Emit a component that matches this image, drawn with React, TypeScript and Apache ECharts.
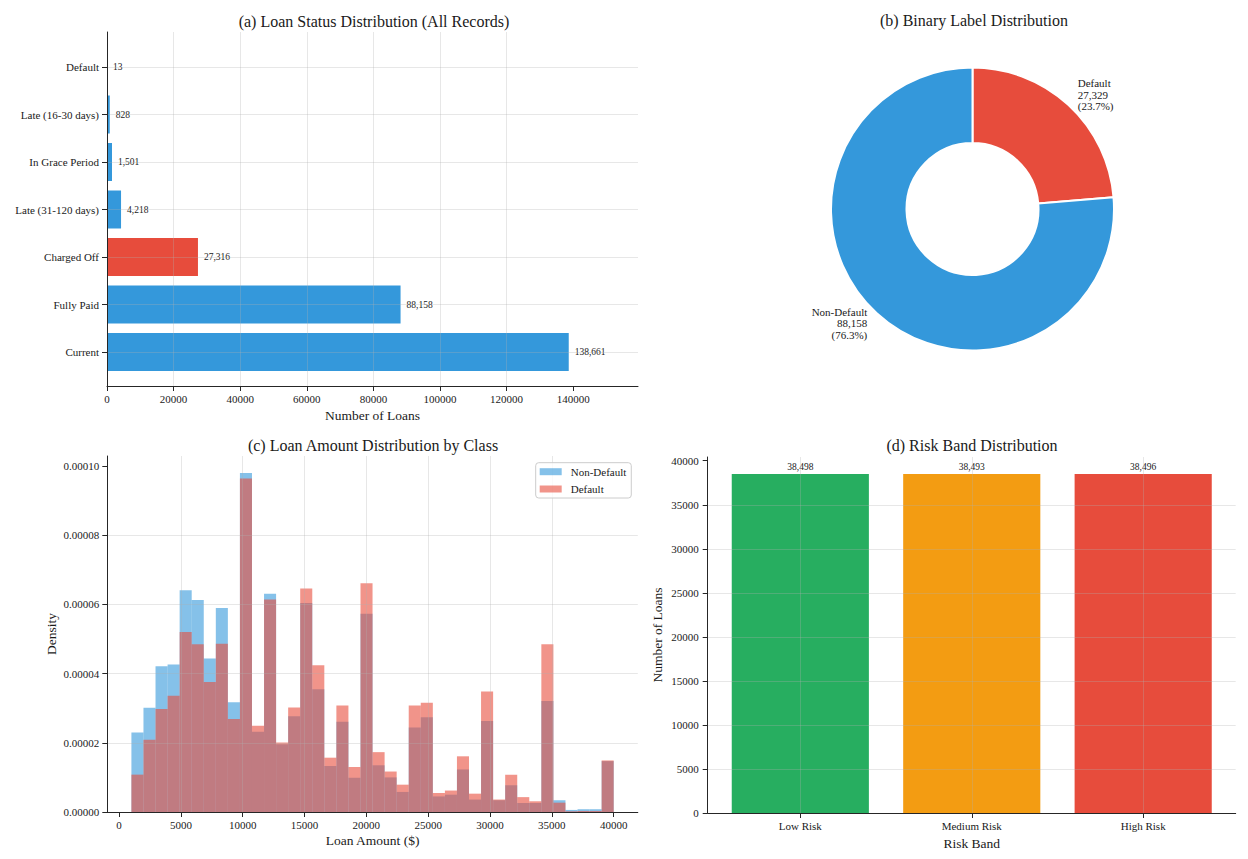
import React, { useEffect, useRef } from 'react';
import * as echarts from 'echarts';

const SERIF = '"Liberation Serif", "Times New Roman", Times, serif';
const INK = '#1a1a1a';

// (a) Loan status counts, listed from the bottom of the axis to the top
const statusLabels = ['Current', 'Fully Paid', 'Charged Off', 'Late (31-120 days)', 'In Grace Period', 'Late (16-30 days)', 'Default'];
const statusCounts = [138661, 88158, 27316, 4218, 1501, 828, 13];
const statusColors = ['#3498db', '#3498db', '#e74c3c', '#3498db', '#3498db', '#3498db', '#3498db'];
const statusTicks = [0, 20000, 40000, 60000, 80000, 100000, 120000, 140000];

// (b) Binary label split
const binaryLabels = ['Default', 'Non-Default'];
const binaryCounts = [27329, 88158];
const binaryColors = ['#e74c3c', '#3498db'];

// (c) Loan amount histogram: 40 equal-width bins starting at $1,000
const HIST_START = 1000;
const HIST_BIN_WIDTH = 975;
const densityNonDefault = [
  2.30e-5, 3.01e-5, 4.21e-5, 4.26e-5, 6.41e-5, 6.13e-5, 4.44e-5, 5.90e-5, 3.17e-5, 9.80e-5,
  2.32e-5, 6.31e-5, 1.96e-5, 2.77e-5, 6.04e-5, 3.55e-5, 1.33e-5, 2.61e-5, 0.99e-5, 5.73e-5,
  1.35e-5, 1.00e-5, 0.58e-5, 2.44e-5, 2.74e-5, 0.45e-5, 0.50e-5, 1.23e-5, 0.36e-5, 2.63e-5,
  0.34e-5, 0.77e-5, 0.26e-5, 0.26e-5, 3.21e-5, 0.34e-5, 0.06e-5, 0.08e-5, 0.08e-5, 1.47e-5,
];
const densityDefault = [
  1.08e-5, 2.09e-5, 2.98e-5, 3.36e-5, 5.20e-5, 4.85e-5, 3.76e-5, 4.86e-5, 2.69e-5, 9.64e-5,
  2.49e-5, 6.14e-5, 2.01e-5, 3.02e-5, 6.46e-5, 4.24e-5, 1.57e-5, 3.08e-5, 1.30e-5, 6.61e-5,
  1.73e-5, 1.17e-5, 0.79e-5, 3.08e-5, 3.16e-5, 0.55e-5, 0.62e-5, 1.61e-5, 0.53e-5, 3.48e-5,
  0.36e-5, 1.08e-5, 0.43e-5, 0.31e-5, 4.85e-5, 0.27e-5, 0.02e-5, 0.03e-5, 0.03e-5, 1.49e-5,
];
const amountTicks = [0, 5000, 10000, 15000, 20000, 25000, 30000, 35000, 40000];
const densityTicks = [0, 0.00002, 0.00004, 0.00006, 0.00008, 0.0001];

// (d) Risk band counts
const riskBands = ['Low Risk', 'Medium Risk', 'High Risk'];
const riskCounts = [38498, 38493, 38496];
const riskColors = ['#27ae60', '#f39c12', '#e74c3c'];
const riskTicks = [0, 5000, 10000, 15000, 20000, 25000, 30000, 35000, 40000];

// Axis extents (data range plus plotting margins)
const STATUS_MAX = 159460;
const AMOUNT_MIN = -950;
const AMOUNT_MAX = 41950;
const DENSITY_MAX = 0.0001029;
const RISK_MAX = 40423;

const axisLine = { show: true, onZero: false, lineStyle: { color: '#262626', width: 1 } };
const hiddenLine = { show: false, onZero: false };
const tick = { show: true, length: 5, lineStyle: { color: '#262626', width: 1 } };
const gridLine = { show: true, lineStyle: { color: 'rgba(176,176,176,0.3)', width: 1 } };
const tickLabel = { fontFamily: SERIF, fontSize: 11, color: INK };
const nameStyle = { fontFamily: SERIF, fontSize: 13.5, color: INK };
const titleStyle = { fontFamily: SERIF, fontSize: 16, fontWeight: 'normal' as const, color: INK, lineHeight: 20 };
const fmt = (v: number) => v.toLocaleString('en-US');
const plain = (v: number) => String(v);

const toBins = (values: number[]) =>
  values.map((d, i) => [HIST_START + i * HIST_BIN_WIDTH, HIST_START + (i + 1) * HIST_BIN_WIDTH, d]);

const histRenderer = (fill: string) => (_params: any, api: any) => {
  const topLeft = api.coord([api.value(0), api.value(2)]);
  const bottomRight = api.coord([api.value(1), 0]);
  return {
    type: 'rect',
    shape: {
      x: topLeft[0],
      y: topLeft[1],
      width: bottomRight[0] - topLeft[0],
      height: bottomRight[1] - topLeft[1],
    },
    style: { fill },
  };
};

const BLUE_A = 'rgba(52,152,219,0.6)';
const RED_A = 'rgba(231,76,60,0.6)';

function buildOption(): any {
  return {
    animation: false,
    textStyle: { fontFamily: SERIF },
    title: [
      { text: '(a) Loan Status Distribution (All Records)', left: 374, top: 11.5, textAlign: 'center', padding: 0, textStyle: titleStyle },
      { text: '(b) Binary Label Distribution', left: 974, top: 10.5, textAlign: 'center', padding: 0, textStyle: titleStyle },
      { text: '(c) Loan Amount Distribution by Class', left: 373, top: 435, textAlign: 'center', padding: 0, textStyle: titleStyle },
      { text: '(d) Risk Band Distribution', left: 972, top: 435, textAlign: 'center', padding: 0, textStyle: titleStyle },
    ],
    legend: {
      data: ['Non-Default', 'Default'],
      orient: 'vertical',
      left: 535.7,
      top: 462.7,
      itemWidth: 22,
      itemHeight: 7,
      itemGap: 4.3,
      icon: 'rect',
      padding: [2.5, 5, 2.5, 4],
      borderColor: '#cccccc',
      borderWidth: 1,
      borderRadius: 3,
      backgroundColor: 'rgba(255,255,255,0.8)',
      selectedMode: false,
      textStyle: { fontFamily: SERIF, fontSize: 11, lineHeight: 13, color: INK, padding: [0, 0, 0, 4] },
    },
    grid: [
      { left: 107, top: 32, width: 531, height: 354 },
      { left: 107, top: 43.25, width: 531, height: 332.5 },
      { left: 107.3, top: 456, width: 530.5, height: 356 },
      { left: 707.7, top: 457, width: 528, height: 356 },
      { left: 714.6, top: 457, width: 514.3, height: 356 },
    ],
    xAxis: [
      {
        gridIndex: 0, type: 'value', min: 0, max: STATUS_MAX, interval: 20000, z: 3,
        axisLine, axisTick: { ...tick, customValues: statusTicks },
        axisLabel: { ...tickLabel, margin: 7, customValues: statusTicks, formatter: plain },
        splitLine: { ...gridLine, showMaxLine: false },
        name: 'Number of Loans', nameLocation: 'middle', nameGap: 22, nameTextStyle: nameStyle,
      },
      { gridIndex: 1, type: 'value', min: 0, max: STATUS_MAX, show: false },
      {
        gridIndex: 2, type: 'value', min: AMOUNT_MIN, max: AMOUNT_MAX, minInterval: 5000, maxInterval: 5000, z: 3,
        axisLine, axisTick: { ...tick, customValues: amountTicks },
        axisLabel: { ...tickLabel, margin: 7, customValues: amountTicks, formatter: plain },
        splitLine: { ...gridLine, showMinLine: false, showMaxLine: false },
        name: 'Loan Amount ($)', nameLocation: 'middle', nameGap: 21, nameTextStyle: nameStyle,
      },
      {
        gridIndex: 3, type: 'value', min: 0, max: 1, z: 3,
        axisLine, axisTick: { show: false }, axisLabel: { show: false }, splitLine: { show: false },
      },
      {
        gridIndex: 4, type: 'category', data: riskBands, z: 3,
        axisLine: hiddenLine, axisTick: { ...tick, alignWithLabel: true },
        axisLabel: { ...tickLabel, margin: 7 },
        splitLine: { ...gridLine, alignWithLabel: true },
        name: 'Risk Band', nameLocation: 'middle', nameGap: 23, nameTextStyle: nameStyle,
      },
    ],
    yAxis: [
      {
        gridIndex: 0, type: 'value', min: 0, max: 1, z: 3,
        axisLine, axisTick: { show: false }, axisLabel: { show: false }, splitLine: { show: false },
      },
      {
        gridIndex: 1, type: 'category', data: statusLabels, z: 3,
        axisLine: hiddenLine, axisTick: { ...tick, alignWithLabel: true },
        axisLabel: { ...tickLabel, margin: 8 },
        splitLine: { ...gridLine, alignWithLabel: true },
      },
      {
        gridIndex: 2, type: 'value', min: 0, max: DENSITY_MAX, interval: 0.00002, z: 3,
        axisLine, axisTick: { ...tick, customValues: densityTicks },
        axisLabel: { ...tickLabel, margin: 8, customValues: densityTicks, formatter: (v: number) => v.toFixed(5) },
        splitLine: { ...gridLine, showMaxLine: false },
        name: 'Density', nameLocation: 'middle', nameGap: 49, nameTextStyle: nameStyle,
      },
      {
        gridIndex: 3, type: 'value', min: 0, max: RISK_MAX, interval: 5000, z: 3,
        axisLine, axisTick: { ...tick, customValues: riskTicks },
        axisLabel: { ...tickLabel, margin: 9, customValues: riskTicks, formatter: plain },
        splitLine: { ...gridLine, showMaxLine: false },
        name: 'Number of Loans', nameLocation: 'middle', nameGap: 43, nameTextStyle: nameStyle,
      },
      { gridIndex: 4, type: 'value', min: 0, max: RISK_MAX, show: false },
    ],
    series: [
      {
        type: 'bar',
        xAxisIndex: 1,
        yAxisIndex: 1,
        barCategoryGap: '20%',
        data: statusCounts.map((v, i) => ({ value: v, itemStyle: { color: statusColors[i] } })),
        label: {
          show: true, position: 'right', distance: 6,
          formatter: (p: any) => fmt(p.value), fontFamily: SERIF, fontSize: 9.5, color: INK,
        },
        emphasis: { disabled: true },
      },
      {
        type: 'pie',
        center: [972.5, 209],
        radius: [66, 141.5],
        startAngle: 90,
        clockwise: true,
        avoidLabelOverlap: false,
        data: binaryLabels.map((n, i) => ({ name: n, value: binaryCounts[i], itemStyle: { color: binaryColors[i] } })),
        itemStyle: { borderColor: '#ffffff', borderWidth: 2 },
        label: {
          show: true, position: 'outside', distanceToLabelLine: 0,
          formatter: (p: any) => `${p.name}\n${fmt(p.value)}\n(${p.percent.toFixed(1)}%)`,
          fontFamily: SERIF, fontSize: 11, lineHeight: 11.5, color: INK,
        },
        labelLine: { show: false, length: 14, length2: 0 },
        emphasis: { disabled: true },
      },
      {
        type: 'custom',
        name: 'Non-Default',
        xAxisIndex: 2,
        yAxisIndex: 2,
        data: toBins(densityNonDefault),
        encode: { x: [0, 1], y: 2 },
        itemStyle: { color: BLUE_A },
        renderItem: histRenderer(BLUE_A),
      },
      {
        type: 'custom',
        name: 'Default',
        xAxisIndex: 2,
        yAxisIndex: 2,
        data: toBins(densityDefault),
        encode: { x: [0, 1], y: 2 },
        itemStyle: { color: RED_A },
        renderItem: histRenderer(RED_A),
      },
      {
        type: 'bar',
        xAxisIndex: 4,
        yAxisIndex: 4,
        barCategoryGap: '20%',
        data: riskCounts.map((v, i) => ({ value: v, itemStyle: { color: riskColors[i] } })),
        label: {
          show: true, position: 'top', distance: 2,
          formatter: (p: any) => fmt(p.value), fontFamily: SERIF, fontSize: 9.5, color: INK,
        },
        emphasis: { disabled: true },
      },
    ],
  };
}

export default function App() {
  const ref = useRef<HTMLDivElement>(null);
  useEffect(() => {
    if (!ref.current) return;
    const chart = echarts.init(ref.current, null, { renderer: 'svg' });
    chart.setOption(buildOption());
    return () => chart.dispose();
  }, []);
  return (
    <div
      ref={ref}
      style={{ position: 'fixed', left: 0, top: 0, width: 1248, height: 859, background: '#ffffff' }}
    />
  );
}
